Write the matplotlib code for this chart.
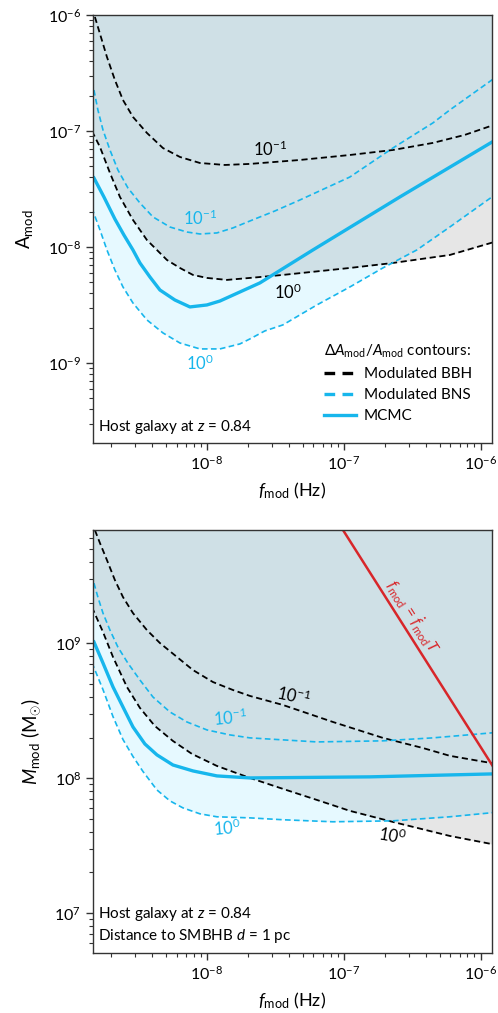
import numpy as np
import matplotlib
matplotlib.use('Agg')
import matplotlib.pyplot as plt
from matplotlib.lines import Line2D

plt.rcParams['font.family'] = ['Lato', 'DejaVu Sans']
plt.rcParams['mathtext.fontset'] = 'custom'
plt.rcParams['mathtext.rm'] = 'Lato'
plt.rcParams['mathtext.it'] = 'Lato:italic'
plt.rcParams['mathtext.bf'] = 'Lato:bold'

# ---- data (log10 values) ----
# top panel: A_mod contours
bbh1_logf = [-8.818, -8.730, -8.672, -8.613, -8.540, -8.438, -8.321, -8.197, -8.051,
             -7.869, -7.686, -7.321, -6.956, -6.642, -6.350, -6.117, -5.910]
bbh1_logA = [-6.017, -6.362, -6.560, -6.733, -6.879, -7.017, -7.147, -7.224, -7.276,
             -7.293, -7.284, -7.250, -7.207, -7.164, -7.103, -7.034, -6.950]
bbh0_logf = [-8.840, -8.781, -8.708, -8.635, -8.540, -8.438, -8.365, -8.292, -8.197,
             -8.102, -8.000, -7.854, -7.686, -7.445, -6.956, -6.642, -6.226, -5.910]
bbh0_logA = [-7.000, -7.138, -7.362, -7.569, -7.767, -7.940, -8.026, -8.112, -8.181,
             -8.241, -8.267, -8.284, -8.267, -8.241, -8.181, -8.138, -8.069, -7.960]
bns1_logf = [-8.825, -8.796, -8.759, -8.708, -8.650, -8.577, -8.489, -8.394, -8.270,
             -8.146, -8.051, -7.927, -7.810, -7.686, -7.504, -7.321, -6.956, -6.642,
             -6.350, -6.226, -5.910]
bns1_logA = [-6.647, -6.819, -6.991, -7.164, -7.336, -7.491, -7.621, -7.741, -7.828,
             -7.871, -7.888, -7.879, -7.836, -7.776, -7.690, -7.595, -7.397, -7.147,
             -6.931, -6.819, -6.553]
bns0_logf = [-8.840, -8.781, -8.730, -8.672, -8.613, -8.540, -8.438, -8.321, -8.197,
             -8.051, -7.905, -7.759, -7.686, -7.577, -7.445, -7.197, -6.956, -6.715,
             -6.467, -6.226, -5.910]
bns0_logA = [-7.664, -7.853, -8.026, -8.198, -8.345, -8.483, -8.629, -8.741, -8.828,
             -8.879, -8.879, -8.836, -8.793, -8.724, -8.672, -8.500, -8.345, -8.181,
             -8.026, -7.828, -7.562]
mcmc_logf = [-8.825, -8.752, -8.672, -8.606, -8.540, -8.489, -8.416, -8.343, -8.234,
             -8.124, -8.000, -7.905, -7.759, -7.613, -7.226, -6.591, -5.910]
mcmc_logA = [-7.405, -7.569, -7.759, -7.897, -8.026, -8.138, -8.259, -8.371, -8.457,
             -8.517, -8.500, -8.466, -8.388, -8.310, -8.026, -7.569, -7.090]

# bottom panel: M_mod contours
mbbh1_logf = [-8.818, -8.781, -8.730, -8.672, -8.613, -8.540, -8.438, -8.343, -8.219,
              -8.102, -7.956, -7.810, -7.686, -7.445, -7.080, -6.715, -6.423, -6.226, -5.910]
mbbh1_logM = [9.839, 9.743, 9.617, 9.469, 9.343, 9.224, 9.098, 9.002, 8.899,
              8.802, 8.713, 8.654, 8.610, 8.543, 8.417, 8.299, 8.224, 8.166, 8.110]
mbbh0_logf = [-8.840, -8.759, -8.686, -8.584, -8.489, -8.380, -8.248, -8.109, -7.927,
              -7.686, -7.445, -7.197, -6.956, -6.642, -6.226, -5.910]
mbbh0_logM = [9.269, 9.084, 8.899, 8.676, 8.521, 8.387, 8.276, 8.180, 8.091,
              8.002, 7.921, 7.839, 7.758, 7.676, 7.572, 7.510]
mbns1_logf = [-8.825, -8.796, -8.759, -8.708, -8.650, -8.577, -8.489, -8.394, -8.270,
              -8.146, -8.000, -7.832, -7.686, -7.197, -6.715, -6.350, -5.910]
mbns1_logM = [9.446, 9.342, 9.224, 9.098, 8.972, 8.853, 8.728, 8.602, 8.491,
              8.417, 8.358, 8.321, 8.299, 8.269, 8.277, 8.299, 8.337]
mbns0_logf = [-8.840, -8.759, -8.686, -8.613, -8.540, -8.467, -8.365, -8.270, -8.175,
              -8.051, -7.927, -7.686, -7.445, -7.080, -6.642, -6.226, -5.910]
mbns0_logM = [8.857, 8.657, 8.457, 8.287, 8.161, 8.050, 7.913, 7.832, 7.780,
              7.736, 7.714, 7.706, 7.692, 7.677, 7.684, 7.714, 7.745]
mmcmc_logf = [-8.825, -8.759, -8.686, -8.613, -8.540, -8.453, -8.365, -8.248, -8.102,
              -7.927, -7.686, -6.810, -5.910]
mmcmc_logM = [9.010, 8.854, 8.677, 8.528, 8.380, 8.254, 8.173, 8.098, 8.054,
              8.017, 8.002, 8.010, 8.032]
red_logf = [-7.10, -5.80]
red_logM = [9.99, 7.91]

BLUE = '#17b6ec'
RED = '#d8262a'
CYAN = '#e6f9ff'


def p10(v):
    return 10 ** np.asarray(v, dtype=float)


def shade(ax, f_bns, y_bns, f_bbh, y_bbh, top):
    # cyan above the BNS 10^0 curve; a faint black veil above the BBH 10^0 curve
    # turns white into light grey and cyan into the grey-blue overlap colour
    ax.fill_between(p10(f_bns), p10(y_bns), top, color=CYAN, lw=0, zorder=0)
    ax.fill_between(p10(f_bbh), p10(y_bbh), top, color='black', alpha=0.098,
                    lw=0, zorder=0.1)


def style(ax):
    ax.set_xscale('log')
    ax.set_yscale('log')
    for s in ax.spines.values():
        s.set_color('#333333')
        s.set_linewidth(1.0)
    ax.tick_params(which='both', direction='out', color='#333333', labelsize=11.5,
                   top=False, right=False)
    ax.tick_params(which='major', length=5, width=1.0)
    ax.tick_params(which='minor', length=3, width=0.8)
    ax.set_xlim(10 ** -8.832, 10 ** -5.918)
    ax.set_xlabel(r'$f_{\rm mod}$ (Hz)', fontsize=13, labelpad=6)


dash_k = dict(color='black', lw=1.3, dashes=(3.4, 2.0))
dash_b = dict(color=BLUE, lw=1.2, dashes=(3.4, 2.0))
kw = dict(fontsize=12, ha='center', va='center')
note = dict(fontsize=11, ha='left', va='bottom')

fig = plt.figure(figsize=(4.98, 10.13), dpi=100)

# ---------------- top panel ----------------
ax1 = fig.add_axes([0.1867, 0.5627, 0.8012, 0.4225])
style(ax1)
shade(ax1, bns0_logf, bns0_logA, bbh0_logf, bbh0_logA, 1.0)
ax1.plot(p10(bbh1_logf), p10(bbh1_logA), **dash_k)
ax1.plot(p10(bbh0_logf), p10(bbh0_logA), **dash_k)
ax1.plot(p10(bns1_logf), p10(bns1_logA), **dash_b)
ax1.plot(p10(bns0_logf), p10(bns0_logA), **dash_b)
ax1.plot(p10(mcmc_logf), p10(mcmc_logA), color=BLUE, lw=2.4)
ax1.set_ylim(10 ** -9.69, 1e-6)
ax1.set_ylabel(r'$\mathrm{A}_{\rm mod}$', fontsize=13.5, labelpad=9)

ax1.text(10 ** -7.54, 10 ** -7.16, r'$10^{-1}$', color='black', **kw)
ax1.text(10 ** -8.05, 10 ** -7.75, r'$10^{-1}$', color=BLUE, **kw)
ax1.text(10 ** -7.41, 10 ** -8.39, r'$10^{0}$', color='black', **kw)
ax1.text(10 ** -8.05, 10 ** -9.00, r'$10^{0}$', color=BLUE, **kw)
ax1.text(0.012, 0.016, r'Host galaxy at $z$ = 0.84', transform=ax1.transAxes, **note)

handles = [Line2D([], [], color='black', lw=2.4, dashes=(3.2, 2.2)),
           Line2D([], [], color=BLUE, lw=2.4, dashes=(3.2, 2.2)),
           Line2D([], [], color=BLUE, lw=2.4)]
leg = ax1.legend(handles, ['Modulated BBH', 'Modulated BNS', 'MCMC'],
                 title=r'$\Delta A_{\rm mod}/A_{\rm mod}$ contours:',
                 loc='lower right', bbox_to_anchor=(0.972, 0.025), frameon=False,
                 fontsize=11, title_fontsize=11, handlelength=2.1,
                 handletextpad=0.5, labelspacing=0.45, borderaxespad=0.2)
leg._legend_box.align = 'left'

# ---------------- bottom panel ----------------
ax2 = fig.add_axes([0.1867, 0.0592, 0.8012, 0.4176])
style(ax2)
shade(ax2, mbns0_logf, mbns0_logM, mbbh0_logf, mbbh0_logM, 1e12)
ax2.plot(p10(mbbh1_logf), p10(mbbh1_logM), **dash_k)
ax2.plot(p10(mbbh0_logf), p10(mbbh0_logM), **dash_k)
ax2.plot(p10(mbns1_logf), p10(mbns1_logM), **dash_b)
ax2.plot(p10(mbns0_logf), p10(mbns0_logM), **dash_b)
ax2.plot(p10(mmcmc_logf), p10(mmcmc_logM), color=BLUE, lw=2.4)
ax2.plot(p10(red_logf), p10(red_logM), color=RED, lw=1.8)
ax2.set_ylim(10 ** 6.704, 10 ** 9.84)
ax2.set_ylabel(r'$M_{\rm mod}$ (M$_{\odot}$)', fontsize=13.5, labelpad=9)

ax2.text(10 ** -7.37, 10 ** 8.61, r'$10^{-1}$', color='black', rotation=-12, **kw)
ax2.text(10 ** -7.83, 10 ** 8.45, r'$10^{-1}$', color=BLUE, rotation=5, **kw)
ax2.text(10 ** -7.85, 10 ** 7.63, r'$10^{0}$', color=BLUE, rotation=5, **kw)
ax2.text(10 ** -6.65, 10 ** 7.57, r'$10^{0}$', color='black', rotation=-10, **kw)
ax2.text(10 ** -6.50, 10 ** 9.20, r'$f_{\rm mod}$ = $\dot{f}_{\rm mod}T$', color=RED,
         rotation=-57.5, fontsize=11.5, ha='center', va='center')
ax2.text(0.012, 0.07, r'Host galaxy at $z$ = 0.84', transform=ax2.transAxes, **note)
ax2.text(0.012, 0.018, r'Distance to SMBHB $d$ = 1 pc', transform=ax2.transAxes, **note)

fig.savefig('out.png', dpi=100)
